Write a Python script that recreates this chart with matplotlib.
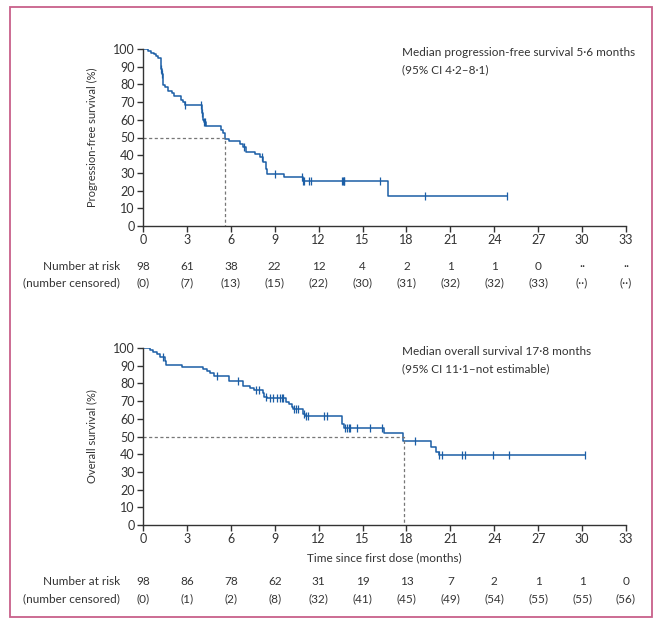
import numpy as np
import matplotlib
matplotlib.use('Agg')
import matplotlib.pyplot as plt
from matplotlib.patches import Rectangle

plt.rcParams['font.family'] = ['Lato', 'DejaVu Sans']

# ---- data ----
pfs_time = [0, 0.35, 0.55, 0.75, 0.9, 1.05, 1.2, 1.28, 1.35, 1.5, 1.7, 2.0, 2.1,
            2.6, 2.75, 2.85, 4.0, 4.05, 4.1, 4.15, 4.3, 5.3, 5.45, 5.6, 5.85,
            6.6, 6.8, 7.03, 7.65, 8.0, 8.2, 8.4, 8.45, 9.65, 10.9, 16.75, 24.9]
pfs_surv = [100, 99, 98, 97, 95.9, 94.9, 88.5, 85.6, 79.4, 78.3, 76.2, 75.1, 73.4,
            71.3, 70.2, 68.4, 66.0, 63.6, 60.0, 58.9, 56.6, 54.2, 52.8, 49.1, 48.0,
            46.3, 44.5, 41.6, 40.7, 39.0, 36.0, 32.0, 29.4, 27.5, 25.3, 16.9, 16.9]
pfs_cens = [1.25, 1.3, 2.87, 3.96, 4.05, 4.2, 4.25, 6.9, 8.1, 9.0, 10.85, 10.95,
            11.0, 11.35, 11.5, 13.6, 13.65, 13.7, 13.75, 16.2, 19.3, 24.9]
pfs_median = 5.6

os_time = [0, 0.5, 0.7, 0.93, 1.16, 1.5, 1.6, 2.64, 4.1, 4.35, 4.6, 4.85, 5.9,
           6.85, 7.3, 7.6, 8.2, 8.3, 8.5, 9.8, 10.0, 10.2, 10.25, 10.9, 11.1,
           13.6, 13.7, 16.45, 17.77, 19.7, 20.0, 20.2, 30.2]
os_surv = [100, 98.9, 97.9, 96.8, 95.0, 92.8, 90.4, 89.3, 88.2, 87.1, 86.0, 84.2, 81.5,
           78.5, 77.6, 76.3, 74.8, 72.5, 71.6, 69.7, 68.5, 66.9, 65.5, 62.7, 61.5,
           57.0, 54.7, 51.8, 47.5, 44.3, 41.4, 39.5, 39.5]
os_cens = [1.34, 5.03, 6.46, 7.75, 7.9, 8.4, 8.67, 8.9, 9.13, 9.35, 9.47, 9.58,
           10.3, 10.45, 10.6, 11.0, 11.15, 11.25, 12.4, 12.6, 13.8, 13.95, 14.05,
           14.15, 14.6, 15.5, 16.3, 18.57, 20.2, 20.4, 21.8, 22.0, 23.9, 25.0, 30.2]
os_median = 17.8

risk_ticks = [0, 3, 6, 9, 12, 15, 18, 21, 24, 27, 30, 33]
pfs_risk = ['98', '61', '38', '22', '12', '4', '2', '1', '1', '0', '··', '··']
pfs_censored = ['(0)', '(7)', '(13)', '(15)', '(22)', '(30)', '(31)', '(32)', '(32)', '(33)', '(··)', '(··)']
os_risk = ['98', '86', '78', '62', '31', '19', '13', '7', '2', '1', '1', '0']
os_censored = ['(0)', '(1)', '(2)', '(8)', '(32)', '(41)', '(45)', '(49)', '(54)', '(55)', '(55)', '(56)']

BLUE = '#1b5ea6'
TXT = '#333333'

W, H = 660, 624
fig = plt.figure(figsize=(W / 100, H / 100), dpi=100)

# pink frame
fig.add_artist(Rectangle((10 / W, 1 - 617 / H), 642 / W, 610 / H, transform=fig.transFigure,
                         fill=False, edgecolor='#c8608a', lw=1.3))


def km_panel(ax, t, s, cens, median, ylabel, label, txt1, txt2, risk, censd, xlabel=None):
    ax.step(t, s, where='post', color=BLUE, lw=1.1)
    idx = np.searchsorted(t, cens, side='right') - 1
    ax.plot(cens, np.array(s)[idx], ls='none', marker='|', ms=6, mew=0.9, color=BLUE)
    ax.plot([0, median, median], [50, 50, 0], ls=(0, (2.5, 2)), color='#777777', lw=0.9)
    ax.set_xlim(0, 33)
    ax.set_ylim(0, 100)
    ax.set_xticks(risk_ticks)
    ax.set_yticks(range(0, 101, 10))
    for sp in ['top', 'right']:
        ax.spines[sp].set_visible(False)
    for sp in ['left', 'bottom']:
        ax.spines[sp].set_color('#333333')
        ax.spines[sp].set_linewidth(1.0)
    ax.tick_params(colors='#333333', labelcolor=TXT, labelsize=9, length=4, width=1.0, pad=2)
    ax.set_ylabel(ylabel, fontsize=8, color=TXT, labelpad=11)
    if xlabel:
        ax.set_xlabel(xlabel, fontsize=8.5, color=TXT, labelpad=5)
    ax.text(-1.1, 1.12, label, transform=ax.get_yaxis_transform(), fontsize=11,
            fontweight='bold', color='#222222', ha='center', va='center')
    ax.text(17.7, 98, txt1, fontsize=8.5, color=TXT, va='center')
    ax.text(17.7, 88.5, txt2, fontsize=8.5, color=TXT, va='center')
    tr = ax.get_xaxis_transform()
    y1 = -0.226 if xlabel is None else -0.322
    y2 = y1 - 0.096
    ax.text(-1.55, y1, 'Number at risk', transform=tr, ha='right', va='center',
            fontsize=8.5, color=TXT)
    ax.text(-1.55, y2, '(number censored)', transform=tr, ha='right', va='center',
            fontsize=8.5, color=TXT)
    for x, r, c in zip(risk_ticks, risk, censd):
        ax.text(x, y1, r, transform=tr, ha='center', va='center', fontsize=8.5, color=TXT)
        ax.text(x, y2, c, transform=tr, ha='center', va='center', fontsize=8.5, color=TXT)


ax1 = fig.add_axes([143 / W, 1 - 226 / H, 483 / W, 177 / H])
km_panel(ax1, pfs_time, pfs_surv, pfs_cens, pfs_median, 'Progression-free survival (%)', 'D',
         'Median progression-free survival 5·6 months', '(95% CI 4·2–8·1)',
         pfs_risk, pfs_censored)

ax2 = fig.add_axes([143 / W, 1 - 525 / H, 483 / W, 177 / H])
km_panel(ax2, os_time, os_surv, os_cens, os_median, 'Overall survival (%)', 'E',
         'Median overall survival 17·8 months', '(95% CI 11·1–not estimable)',
         os_risk, os_censored, xlabel='Time since first dose (months)')

fig.savefig('out.png', dpi=100)
